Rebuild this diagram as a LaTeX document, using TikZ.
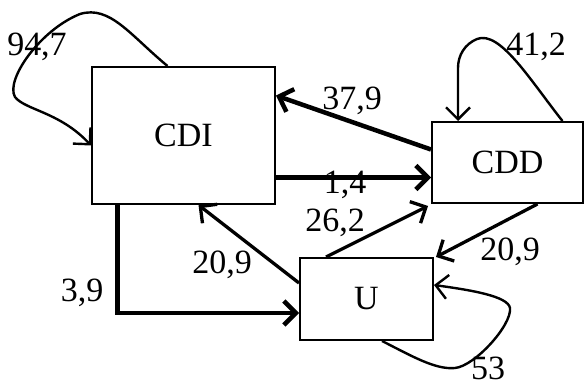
\documentclass[tikz,border=0pt]{standalone}
\usepackage{fontspec}
\setmainfont{Liberation Serif}
\usetikzlibrary{arrows.meta}
\begin{document}
\begin{tikzpicture}[x=1pt,y=-1pt,
  box/.style={draw,line width=2pt,inner sep=0pt,font=\fontsize{34}{36}\selectfont},
  lbl/.style={inner sep=0pt,font=\fontsize{34}{36}\selectfont},
  tip/.style={-{Straight Barb[length=12pt,width=24pt]}},
  heavy/.style={tip,line width=4.5pt},
  medium/.style={tip,line width=3.3pt},
  loopline/.style={tip,line width=2.4pt}]
\useasboundingbox (0,0) rectangle (584,385);
\node[box,minimum width=183pt,minimum height=137pt] (cdi) at (183.5,135.5) {CDI};
\node[box,minimum width=151pt,minimum height=81pt] (cdd) at (507.5,162.5) {CDD};
\node[box,minimum width=133pt,minimum height=82pt] (u) at (366.5,299) {U};
% arrows
\draw[heavy] ([yshift=13pt]cdd.west) -- ([yshift=40pt]cdi.east);
\draw[heavy] ([yshift=-42pt]cdi.east) -- ([yshift=-15pt]cdd.west);
\draw[medium] ([xshift=27pt]u.north west) -- ([xshift=-3pt,yshift=-2pt]cdd.south west);
\draw[medium] ([xshift=30pt]cdd.south) -- ([xshift=2pt]u.north east);
\draw[medium] ([yshift=16pt]u.west) -- ([xshift=15pt]cdi.south);
\draw[heavy] ([xshift=-66pt]cdi.south) |- ([yshift=-14pt]u.west);
% loops
\draw[loopline] ([xshift=-16pt]cdi.north) .. controls (130,35) and (110,5) .. (80,14)
  .. controls (40,30) and (5,80) .. (15,97) .. controls (25,110) and (60,112) .. ([yshift=-10pt]cdi.west);
\draw[loopline] ([xshift=55pt]cdd.north) .. controls (530,80) and (500,30) .. (477,39)
  .. controls (465,44) and (458,55) .. (458,68) -- ([xshift=-49.5pt]cdd.north);
\draw[loopline] ([xshift=15.5pt]u.south) .. controls (410,355) and (435,370) .. (455,368)
  .. controls (475,366) and (512,325) .. (510,308) .. controls (508,296) and (470,290) .. ([yshift=14pt]u.east);
% labels
\node[lbl] (l947) at (37,47) {94,7};
\node[lbl] (l412) at (536,47) {41,2};
\node[lbl] (l379) at (352,101) {37,9};
\node[lbl] (l14) at (345,185) {1,4};
\node[lbl] (l262) at (335,223) {26,2};
\node[lbl] (l209r) at (510,252) {20,9};
\node[lbl] (l209l) at (222,265) {20,9};
\node[lbl] (l39) at (82,293) {3,9};
\node[lbl] (l53) at (488,368) {53};
\end{tikzpicture}
\end{document}
